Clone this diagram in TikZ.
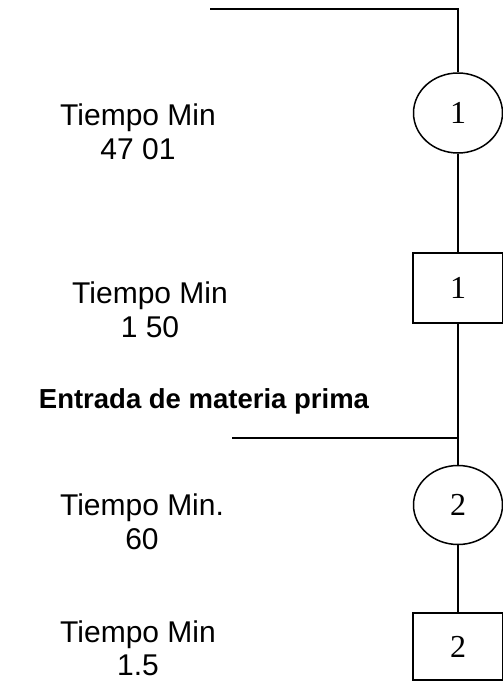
\documentclass[tikz,border=0pt]{standalone}
\usepackage{fontspec}
\setmainfont{Liberation Sans}
\newfontfamily\numfont{Liberation Serif}
\usetikzlibrary{shapes.geometric}
\tikzset{
  flow/.style={line width=1.7pt},
  numtext/.style={font=\fontsize{32}{32}\selectfont\numfont},
  opcircle/.style={ellipse, draw, line width=1.5pt, inner sep=0pt,
    minimum width=89pt, minimum height=80pt, numtext},
  opbox/.style={rectangle, draw, line width=1.5pt, inner sep=0pt,
    minimum width=90pt, minimum height=70pt, numtext},
  timelabel/.style={align=center, inner sep=0pt, font=\fontsize{30}{34}\selectfont},
  inlabel/.style={inner sep=0pt, font=\bfseries\fontsize{27.5}{30}\selectfont}
}
\begin{document}
\begin{tikzpicture}[x=1pt,y=-1pt]
  \useasboundingbox (0,0) rectangle (503,681);

  % process symbols along the main line
  \node[opcircle] (c1) at (458,113) {1};
  \node[opbox]    (b1) at (458,288) {1};
  \node[opcircle, minimum height=79pt] (c2) at (458,505) {2};
  \node[opbox, minimum height=67pt] (b2) at (458,646.5) {2};

  % line ends
  \coordinate (start)  at (210,9);
  \coordinate (corner) at (458,9);
  \coordinate (feed)   at (232,438);
  \coordinate (join)   at (458,438);

  % connectors
  \draw[flow] (start) -- (corner) -- (c1.north);
  \draw[flow] (c1.south) -- (b1.north);
  \draw[flow] (b1.south) -- (join) -- (c2.north);
  \draw[flow] (feed) -- (join);
  \draw[flow] (c2.south) -- (b2.north);

  % time labels
  \node[timelabel] (t1) at (138,132) {Tiempo Min\\47 01};
  \node[timelabel] (t2) at (150,310) {Tiempo Min\\1 50};
  \node[inlabel]   (in) at (204,401) {Entrada de materia prima};
  \node[timelabel] (t3) at (142,522) {Tiempo Min.\\60};
  \node[timelabel, font=\fontsize{30}{33}\selectfont] (t4) at (138,648) {Tiempo Min\\1.5};
\end{tikzpicture}
\end{document}
